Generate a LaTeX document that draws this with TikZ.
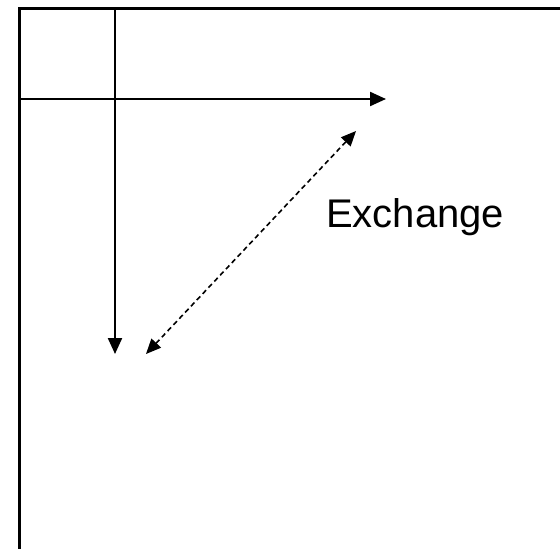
\documentclass[tikz,border=0pt]{standalone}
\usepackage{fontspec}
\setmainfont{Liberation Sans}
\usetikzlibrary{arrows.meta}
\begin{document}
\begin{tikzpicture}[x=1pt,y=-1pt,
  frameline/.style={line width=3pt},
  axisline/.style={line width=2.2pt,-{Triangle[length=16pt,width=14pt]}},
  exline/.style={line width=1.6pt,dash pattern=on 5pt off 3.5pt,{Triangle[length=15pt,width=13pt]}-{Triangle[length=15pt,width=13pt]}}]
\useasboundingbox (0,0) rectangle (560,549);
\coordinate (fbl) at (19,549);
\coordinate (ftl) at (19,8);
\coordinate (ftr) at (560,8);
\draw[frameline] (fbl) -- (ftl) -- (ftr);
\coordinate (vtop) at (115,8);
\coordinate (vend) at (115,354);
\coordinate (hstart) at (19,99);
\coordinate (hend) at (386,99);
\draw[axisline] (vtop) -- (vend);
\draw[axisline] (hstart) -- (hend);
\coordinate (ea) at (146,354);
\coordinate (eb) at (356,131);
\draw[exline] (ea) -- (eb);
\node[anchor=base west,font=\fontsize{40}{48}\selectfont,inner sep=0pt] (ex) at (326,227) {Exchange};
\end{tikzpicture}
\end{document}
